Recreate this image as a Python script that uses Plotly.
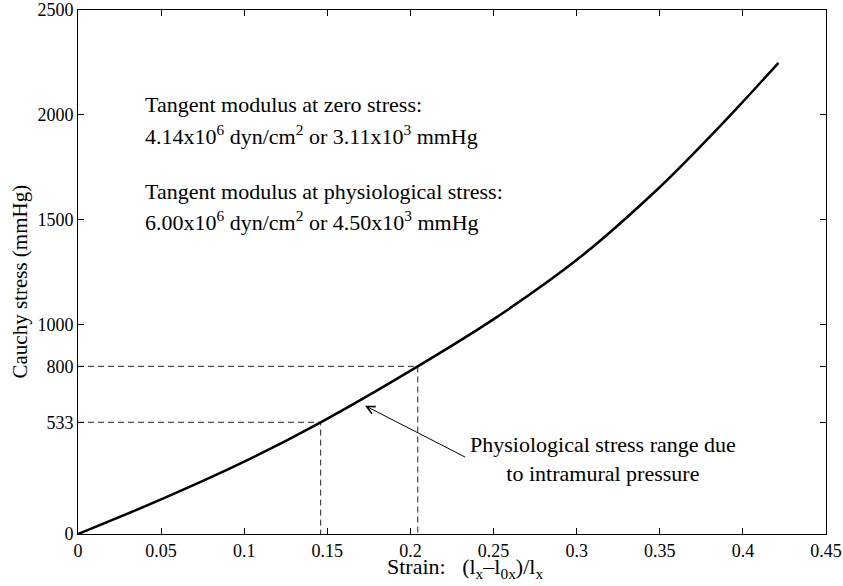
import plotly.graph_objects as go

# Curve
strain = [0, 0.05, 0.1, 0.146, 0.2044, 0.251, 0.302, 0.348, 0.378, 0.398, 0.4214]
stress = [0, 165, 345, 533, 800, 1030, 1320, 1640, 1878, 2045, 2248]

# Physiological range markers
range_strain = [0.146, 0.2044]
range_stress = [533, 800]

x_ticks = [0, 0.05, 0.1, 0.15, 0.2, 0.25, 0.3, 0.35, 0.4, 0.45]
x_ticktext = ["0", "0.05", "0.1", "0.15", "0.2", "0.25", "0.3", "0.35", "0.4", "0.45"]
y_ticks = [0, 533, 800, 1000, 1500, 2000, 2500]
y_ticktext = ["0", "533", "800", "1000", "1500", "2000", "2500"]

FONT = "Liberation Serif, Times New Roman, serif"

fig = go.Figure()

# dashed guide lines
for xs, ys in zip(range_strain, range_stress):
    fig.add_trace(go.Scatter(x=[0, xs, xs], y=[ys, ys, 0], mode="lines",
                             line=dict(color="#222", width=1, dash="6px,4px"),
                             hoverinfo="skip", showlegend=False))

fig.add_trace(go.Scatter(x=strain, y=stress, mode="lines",
                         line=dict(color="black", width=2.5, shape="spline", smoothing=1.0),
                         showlegend=False))

axis_common = dict(showgrid=False, zeroline=False, showline=True, linecolor="black",
                   linewidth=1, mirror="ticks", ticks="inside", ticklen=6, automargin=False,
                   tickcolor="black", tickfont=dict(family=FONT, size=18, color="black"))

fig.update_xaxes(range=[0, 0.45], tickvals=x_ticks, ticktext=x_ticktext, **axis_common)
fig.update_yaxes(range=[0, 2500], tickvals=y_ticks, ticktext=y_ticktext, **axis_common)

ann_font = dict(family=FONT, size=22, color="black")
lines = [
    ("Tangent modulus at zero stress:", 2048),
    ("4.14x10<sup>6</sup> dyn/cm<sup>2</sup> or 3.11x10<sup>3</sup> mmHg", 1905),
    ("Tangent modulus at physiological stress:", 1635),
    ("6.00x10<sup>6</sup> dyn/cm<sup>2</sup> or 4.50x10<sup>3</sup> mmHg", 1495),
]
for txt, yy in lines:
    fig.add_annotation(x=0.0389, y=yy, xref="x", yref="y", text=txt, showarrow=False,
                       xanchor="left", yanchor="middle", font=ann_font)

# arrow
fig.add_annotation(x=0.1727, y=612, ax=0.2339, ay=363, xref="x", yref="y",
                   axref="x", ayref="y", text="", showarrow=True, arrowhead=5,
                   arrowsize=1.6, arrowwidth=1, arrowcolor="black")
fig.add_annotation(x=0.3159, y=360, xref="x", yref="y",
                   text="Physiological stress range due<br>to intramural pressure",
                   showarrow=False, xanchor="center", yanchor="middle", align="center",
                   font=ann_font)

# axis titles
fig.add_annotation(x=-0.0775, y=0.482, xref="paper", yref="paper",
                   text="Cauchy stress (mmHg)", textangle=-90, showarrow=False,
                   xanchor="center", yanchor="middle", font=dict(family=FONT, size=21, color="black"))
fig.add_annotation(x=0.41, y=-0.064, xref="paper", yref="paper",
                   text="Strain:\u00a0\u00a0\u00a0(l<sub>x</sub>\u2013l<sub>0x</sub>)/l<sub>x</sub>",
                   showarrow=False, xanchor="left", yanchor="middle",
                   font=dict(family=FONT, size=22, color="black"))

fig.update_layout(width=843, height=586, margin=dict(l=78, r=17, t=10, b=52),
                  plot_bgcolor="white", paper_bgcolor="white", showlegend=False)

fig.write_html("out.html")
